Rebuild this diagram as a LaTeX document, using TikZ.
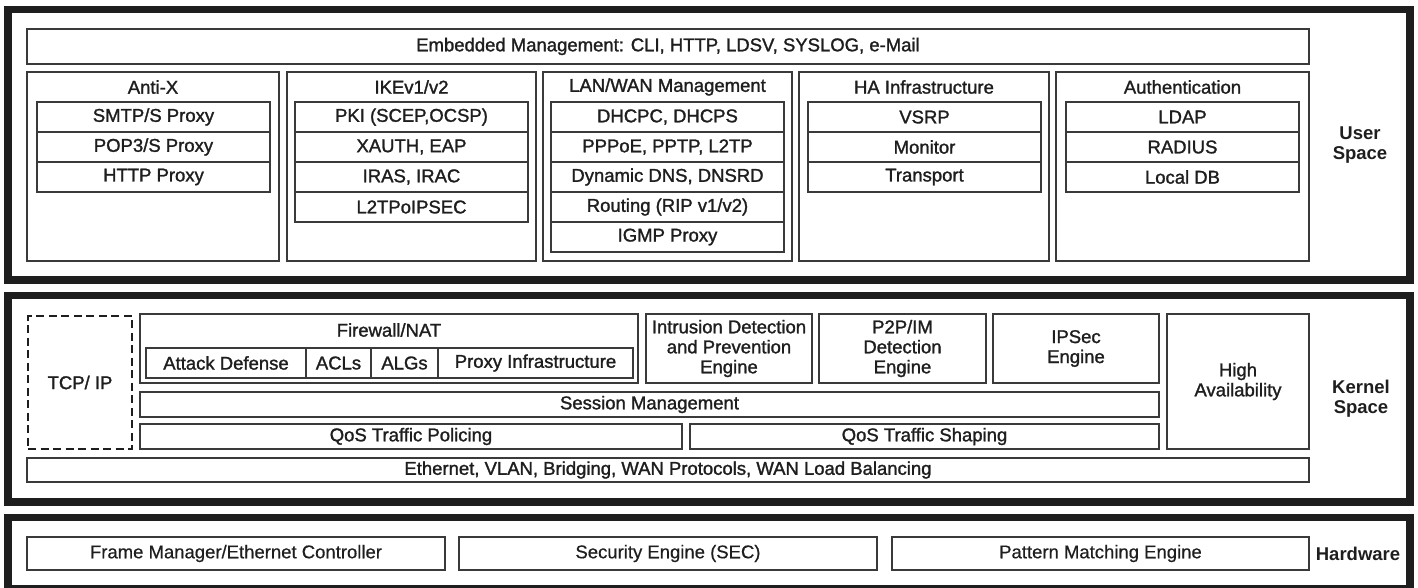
\documentclass[tikz,border=0pt]{standalone}
\usepackage{fontspec}
\setmainfont{Liberation Sans}[FakeBold=1.4]
\newfontfamily\lblfont{Liberation Sans}
\newfontfamily\hwfont{Liberation Sans}[FakeBold=0.5]
\definecolor{ink}{HTML}{1E1E1E}
\definecolor{edge}{HTML}{3A3A3A}
\newcommand{\bx}[6]{\node[box, anchor=north west, minimum width={(#4-#2)*1pt}, minimum height={(#5-#3)*1pt}] (#1) at (#2,#3) {#6};}
\newcommand{\frm}[5]{\node[frame, anchor=north west, minimum width={(#4-#2)*1pt}, minimum height={(#5-#3)*1pt}] (#1) at (#2,#3) {};}
\begin{document}
\begin{tikzpicture}[x=1pt,y=-1pt,
  every node/.style={inner sep=0pt, outer sep=0pt, text=ink, font=\fontsize{18.5}{20}\selectfont},
  box/.style={draw=edge, line width=1.1pt, rectangle, align=center},
  frame/.style={draw=ink, line width=7.5pt, rectangle},
  ttl/.style={align=center},
  side/.style={align=center, font=\lblfont\bfseries\fontsize{18.5}{20}\selectfont},
  dashbox/.style={draw=ink, line width=2.8pt, dash pattern=on 8pt off 4.5pt, rectangle, align=center}]
\useasboundingbox (0,0) rectangle (1418,588);
% frames
\frm{userframe}{8}{9.5}{1410}{280}
\frm{kernelframe}{8}{295.5}{1410}{502}
\frm{hwframe}{8}{517.5}{1410}{589}
\node[side] (userlbl) at (1360,145) {User\\Space};
\node[side] (kernellbl) at (1361,399) {Kernel\\Space};
\node[side] (hwlbl) at (1358,553.5) {Hardware};
% user space
\bx{emb}{27}{29}{1309}{64}{Embedded Management: CLI, HTTP, LDSV, SYSLOG, e-Mail}
\bx{antix}{27}{72}{279}{261}{}
\bx{ike}{287}{72}{536}{261}{}
\bx{lanwan}{543}{72}{792}{261}{}
\bx{ha}{799}{72}{1049}{261}{}
\bx{auth}{1056}{72}{1309}{261}{}
\node[ttl] (antixt) at (153,87) {Anti-X};
\node[ttl] (iket) at (411.5,87) {IKEv1/v2};
\node[ttl] (lanwant) at (667.5,87) {LAN/WAN Management};
\node[ttl] (hat) at (924,87) {HA Infrastructure};
\node[ttl] (autht) at (1182.5,87) {Authentication};
\bx{smtp}{37}{102}{270}{132}{SMTP/S Proxy}
\bx{pop}{37}{132}{270}{162}{POP3/S Proxy}
\bx{http}{37}{162}{270}{192}{HTTP Proxy}
\bx{pki}{295}{102}{528}{132}{PKI (SCEP,OCSP)}
\bx{xauth}{295}{132}{528}{162}{XAUTH, EAP}
\bx{iras}{295}{162}{528}{192}{IRAS, IRAC}
\bx{l2tpo}{295}{192}{528}{222}{L2TPoIPSEC}
\bx{dhcp}{551}{102}{784}{132}{DHCPC, DHCPS}
\bx{pppoe}{551}{132}{784}{162}{PPPoE, PPTP, L2TP}
\bx{ddns}{551}{162}{784}{192}{Dynamic DNS, DNSRD}
\bx{rip}{551}{192}{784}{222}{Routing (RIP v1/v2)}
\bx{igmp}{551}{222}{784}{252}{IGMP Proxy}
\bx{vsrp}{808}{102}{1041}{132}{VSRP}
\bx{mon}{808}{132}{1041}{162}{Monitor}
\bx{trans}{808}{162}{1041}{192}{Transport}
\bx{ldap}{1066}{102}{1299}{132}{LDAP}
\bx{radius}{1066}{132}{1299}{162}{RADIUS}
\bx{localdb}{1066}{162}{1299}{192}{Local DB}
% kernel space
\node[dashbox, anchor=north west, minimum width=104pt, minimum height=133pt] (tcpip) at (28,316) {TCP/ IP};
\bx{fw}{140}{314}{638}{383}{}
\node[ttl] (fwt) at (389,330) {Firewall/NAT};
\bx{atk}{146}{348}{306}{378}{Attack Defense}
\bx{acl}{306}{348}{371}{378}{ACLs}
\bx{alg}{371}{348}{438}{378}{ALGs}
\bx{proxy}{438}{348}{633}{378}{Proxy Infrastructure}
\bx{ids}{646}{314}{812}{383}{Intrusion Detection\\and Prevention\\Engine}
\bx{p2p}{819}{314}{986}{383}{P2P/IM\\Detection\\Engine}
\bx{ipsec}{993}{314}{1159}{383}{IPSec\\Engine}
\bx{hiav}{1167}{314}{1309}{449}{High\\Availability}
\bx{sess}{140}{392}{1159}{417}{Session Management}
\bx{qosp}{140}{424}{682}{449}{QoS Traffic Policing}
\bx{qoss}{690}{424}{1159}{449}{QoS Traffic Shaping}
\bx{eth}{27}{458}{1309}{482}{Ethernet, VLAN, Bridging, WAN Protocols, WAN Load Balancing}
% hardware
\bx{fman}{27}{537}{445}{570}{\hwfont Frame Manager/Ethernet Controller}
\bx{sec}{459}{537}{877}{570}{\hwfont Security Engine (SEC)}
\bx{pme}{892}{537}{1309}{570}{\hwfont Pattern Matching Engine}
\end{tikzpicture}
\end{document}
